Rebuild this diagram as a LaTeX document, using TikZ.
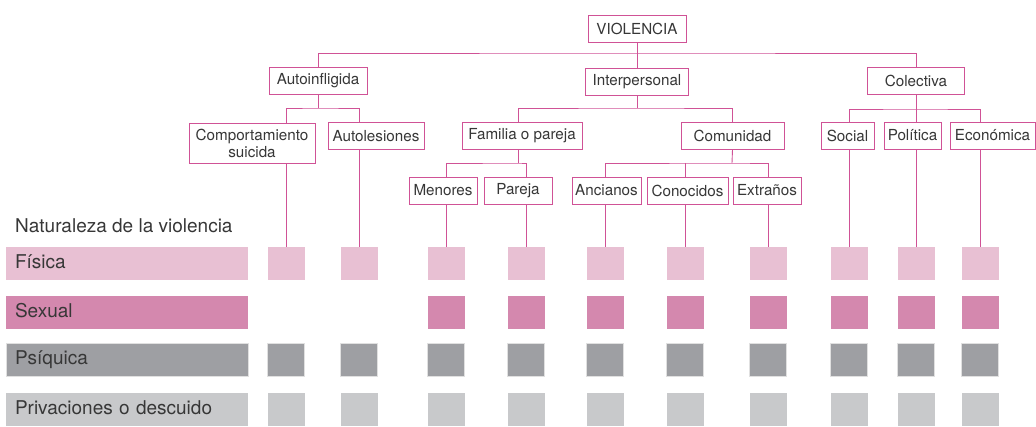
\documentclass[tikz,border=0pt]{standalone}
\usepackage{fontspec}
\setmainfont{TeX Gyre Heros}
\usetikzlibrary{positioning}
\definecolor{vline}{RGB}{208,82,150}
\definecolor{fisc}{RGB}{232,192,211}
\definecolor{sexc}{RGB}{212,136,174}
\definecolor{psic}{RGB}{158,159,163}
\definecolor{pric}{RGB}{200,201,203}
\definecolor{txt}{RGB}{55,55,55}
\tikzset{
  box/.style={draw=vline, line width=0.9pt, fill=white, text=txt, minimum height=27pt, inner xsep=2pt, inner ysep=0pt, align=center, font=\fontsize{15.2}{17}\selectfont},
  link/.style={draw=vline, line width=0.9pt},
  sq/.style={minimum width=37pt, minimum height=33pt, inner sep=0pt},
  bar/.style={minimum width=242pt, minimum height=33pt, text width=224pt, text height=14pt, text depth=4pt, inner xsep=9pt, inner ysep=0pt, align=left, text=txt, font=\fontsize{19}{21}\selectfont},
}

\begin{document}
\begin{tikzpicture}[x=1pt,y=-1pt]
    \useasboundingbox (0,0) rectangle (1036,426);

    % arbol
    \node[box, minimum width=98pt] (violencia) at (637,28.5) {VIOLENCIA};
    \node[box, minimum width=98pt] (autoinf) at (318,81) {Autoinfligida};
    \node[box, minimum width=103pt] (interp) at (637,81.5) {Interpersonal};
    \node[box, minimum width=97pt] (colect) at (916,80.5) {Colectiva};

    \node[box, minimum width=126pt, minimum height=40pt] (suicida) at (252,143) {Comportamiento\\suicida};
    \node[box, minimum width=96pt] (autoles) at (376,136) {Autolesiones};
    \node[box, minimum width=120pt] (familia) at (522,136) {Familia o pareja};
    \node[box, minimum width=103pt] (comunidad) at (732.5,135.5) {Comunidad};
    \node[box, minimum width=53pt] (social) at (847.5,135.5) {Social};
    \node[box, minimum width=57pt] (politica) at (912.5,135.5) {Política};
    \node[box, minimum width=85pt] (economica) at (992.5,135.5) {Económica};

    \node[box, minimum width=68pt] (menores) at (443,190.5) {Menores};
    \node[box, minimum width=68pt] (pareja) at (518,190.5) {Pareja};
    \node[box, minimum width=69pt] (ancianos) at (606.5,190.5) {Ancianos};
    \node[box, minimum width=81pt] (conocidos) at (687.5,190.5) {Conocidos};
    \node[box, minimum width=68pt] (extranos) at (767,190.5) {Extraños};

    % naturaleza
    \node[anchor=base west, inner sep=0pt, text=txt, font=\fontsize{19}{21}\selectfont] (titulo) at (15,232) {Naturaleza de la violencia};
    \node[bar, fill=fisc] (fisica) at (127,263.5) {Física};
    \node[bar, fill=sexc] (sexual) at (127,312.5) {Sexual};
    \node[bar, fill=psic, draw=black!12, line width=0.5pt] (psiquica) at (127,359.5) {Psíquica};
    \node[bar, fill=pric] (privac) at (127,409.5) {Privaciones o descuido};

    \foreach \i/\x in {1/286,2/359,3/446,4/526,5/605,6/685,7/768,8/849,9/916,10/980}{
        \node[sq, fill=fisc] (fis\i) at (\x,263.5) {};
        \node[sq, fill=psic, draw=black!12, line width=0.5pt] (psi\i) at (\x,359.5) {};
        \node[sq, fill=pric] (pri\i) at (\x,409.5) {};
    }
    \foreach \i/\x in {3/446,4/526,5/605,6/685,7/768,8/849,9/916,10/980}
        \node[sq, fill=sexc] (sex\i) at (\x,312.5) {};

    % conexiones
    \coordinate (j0) at (637,53);
    \coordinate (j1) at (318,108);
    \coordinate (j2) at (637,108);
    \coordinate (j3) at (916,109);
    \coordinate (j4) at (518,163);
    \coordinate (j5) at (732,163);

    \draw[link] (violencia.south) -- (interp.north);
    \draw[link] (autoinf.north) |- (j0) -| (colect.north);

    \draw[link] (autoinf.south) -- (j1);
    \draw[link] (suicida.north -| fis1) |- (j1) -| (autoles.north -| fis2);

    \draw[link] (interp.south) -- (j2);
    \draw[link] ([xshift=-4pt]familia.north) |- (j2) -| (comunidad.north);

    \draw[link] (colect.south) -- (politica.north -| fis9);
    \draw[link] (social.north -| fis8) |- (j3) -| (economica.north -| fis10);

    \draw[link] ([xshift=-4pt]familia.south) -- (j4);
    \draw[link] (menores.north -| fis3) |- (j4) -| (pareja.north -| fis4);

    \draw[link] (comunidad.south) -- (j5);
    \draw[link] (ancianos.north -| fis5) |- (j5) -| (extranos.north -| fis7);
    \draw[link] (conocidos.north -| fis6) -- (j5 -| fis6);

    \foreach \n/\i in {suicida/1,autoles/2,menores/3,pareja/4,ancianos/5,conocidos/6,extranos/7,social/8,politica/9,economica/10}
        \draw[link] (\n.south -| fis\i) -- (fis\i.north);
\end{tikzpicture}
\end{document}
